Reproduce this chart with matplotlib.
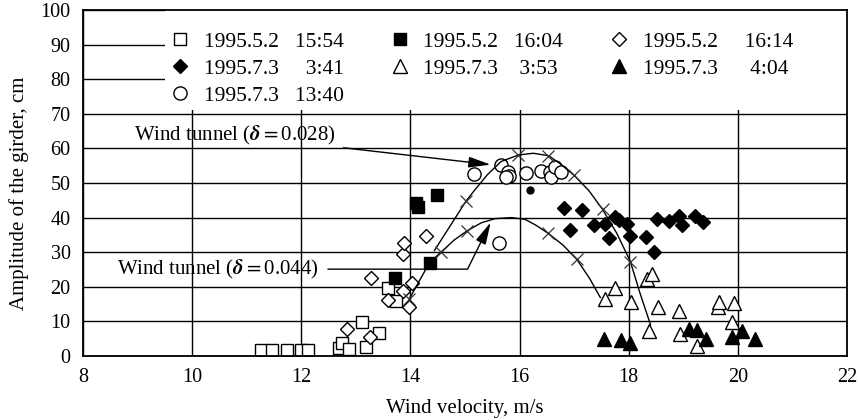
import matplotlib
matplotlib.use("Agg")
import matplotlib.pyplot as plt
from matplotlib.patches import Rectangle

plt.rcParams['font.family'] = ['Liberation Serif', 'DejaVu Serif']
plt.rcParams['mathtext.fontset'] = 'stix'

# ---------------- data ----------------
# 1995.5.2 15:54 (open squares)
sq_open_x = [11.27, 11.46, 11.74, 12.00, 12.12, 12.69, 12.75, 12.87, 13.11, 13.18, 13.42, 13.58, 13.73]
sq_open_y = [1.8, 1.8, 1.8, 1.8, 1.8, 2.4, 3.8, 2.0, 9.8, 2.6, 6.6, 19.7, 15.9]
# 1995.5.2 16:04 (filled squares)
sq_fill_x = [13.72, 14.11, 14.14, 14.48, 14.35]
sq_fill_y = [22.6, 44.2, 43.2, 46.4, 27.0]
# small isolated dot
dot_x = [16.19]
dot_y = [47.9]
# 1995.5.2 16:14 (open diamonds)
dia_open_x = [12.84, 13.25, 13.27, 13.58, 13.86, 13.87, 13.89, 13.98, 14.02, 14.28]
dia_open_y = [7.7, 5.5, 22.6, 16.2, 18.8, 29.4, 32.6, 14.3, 21.2, 34.6]
# 1995.7.3 3:41 (filled diamonds)
dia_fill_x = [16.82, 17.15, 16.92, 17.37, 17.56, 17.74, 17.63, 17.83, 17.96, 18.03,
              18.31, 18.46, 18.52, 18.74, 18.92, 18.98, 19.22, 19.36]
dia_fill_y = [42.7, 42.2, 36.5, 37.9, 38.1, 40.3, 34.0, 39.3, 38.1, 34.6,
              34.5, 30.2, 39.5, 39.0, 40.5, 37.9, 40.5, 38.6]
# 1995.7.3 3:53 (open triangles)
tri_open_x = [17.56, 17.74, 18.05, 18.33, 18.42, 18.38, 18.53, 18.92, 18.94, 19.25,
              19.63, 19.66, 19.93, 19.89]
tri_open_y = [16.5, 19.7, 15.7, 22.2, 23.8, 7.2, 14.3, 12.9, 6.4, 2.8,
              14.3, 15.7, 15.3, 9.7]
# 1995.7.3 4:04 (filled triangles)
tri_fill_x = [17.54, 17.86, 18.03, 19.10, 19.25, 19.41, 19.89, 20.08, 20.31]
tri_fill_y = [4.9, 4.5, 3.8, 7.7, 7.5, 4.9, 5.5, 7.2, 4.9]
# 1995.7.3 13:40 (open circles)
circ_x = [15.16, 15.66, 15.78, 15.80, 15.75, 16.12, 16.40, 16.55, 16.58, 16.65, 16.76, 15.63]
circ_y = [52.6, 55.1, 53.3, 52.1, 51.6, 52.9, 53.5, 53.1, 51.6, 54.5, 53.3, 32.7]

# wind tunnel curves
wt028_x = [14.44, 15.02, 15.16, 15.41, 15.66, 15.98, 16.25, 16.53, 16.75, 17.00, 17.27, 17.52, 17.78, 18.03, 18.20, 18.40]
wt028_y = [30.5, 44.8, 47.6, 52.4, 56.2, 58.1, 58.6, 57.9, 55.5, 52.2, 47.8, 42.4, 35.5, 27.3, 18.5, 9.0]
wt028_mx = [15.02, 15.98, 16.53, 17.00, 17.52, 18.03]
wt028_my = [44.8, 58.1, 57.9, 52.2, 42.4, 27.3]

wt044_x = [13.98, 14.35, 14.56, 14.80, 15.04, 15.30, 15.55, 15.85, 16.10, 16.30, 16.52, 16.80, 17.05, 17.28, 17.48]
wt044_y = [16.5, 27.0, 30.0, 33.5, 36.2, 38.5, 39.7, 40.0, 39.5, 37.8, 35.5, 32.0, 27.9, 22.5, 16.9]
wt044_mx = [13.98, 14.56, 15.04, 16.52, 17.05]
wt044_my = [16.5, 30.0, 36.2, 35.5, 27.9]

labels = ["1995.5.2   15:54", "1995.7.3     3:41", "1995.7.3   13:40",
          "1995.5.2   16:04", "1995.7.3    3:53",
          "1995.5.2     16:14", "1995.7.3      4:04"]
x_ticks = [8, 10, 12, 14, 16, 18, 20, 22]
y_ticks = [0, 10, 20, 30, 40, 50, 60, 70, 80, 90, 100]

# ---------------- figure ----------------
fig = plt.figure(figsize=(8.58, 4.20), dpi=100)
ax = fig.add_axes([83/858, 1-356/420, (847-83)/858, (356-10)/420])
ax.set_xlim(8, 22)
ax.set_ylim(0, 100)
ax.set_xticks(x_ticks)
ax.set_yticks(y_ticks)
ax.grid(True, color='black', linewidth=1.0, zorder=0)
ax.set_axisbelow(True)
ax.tick_params(length=0, labelsize=14.5, pad=9)
for s in ax.spines.values():
    s.set_linewidth(1.3)
    s.set_zorder(10)

# white box behind legend
ax.add_patch(Rectangle((9.5, 71.2), 22 - 9.5, 100 - 71.2, facecolor='white',
                       edgecolor='none', zorder=1.5))

mk = dict(linestyle='none', markeredgecolor='black', markeredgewidth=1.0, zorder=4)
h_sq_open, = ax.plot(sq_open_x, sq_open_y, marker='s', markersize=8, markerfacecolor='white', **mk)
h_sq_fill, = ax.plot(sq_fill_x, sq_fill_y, marker='s', markersize=8, markerfacecolor='black', **mk)
ax.plot(dot_x, dot_y, marker='o', markersize=5, markerfacecolor='black', **mk)
h_dia_open, = ax.plot(dia_open_x, dia_open_y, marker='D', markersize=7, markerfacecolor='white', **mk)
h_dia_fill, = ax.plot(dia_fill_x, dia_fill_y, marker='D', markersize=7, markerfacecolor='black', **mk)
h_tri_open, = ax.plot(tri_open_x, tri_open_y, marker='^', markersize=10.5, markerfacecolor='white', **mk)
h_tri_fill, = ax.plot(tri_fill_x, tri_fill_y, marker='^', markersize=10.5, markerfacecolor='black', **mk)
h_circ, = ax.plot(circ_x, circ_y, marker='o', markersize=9.5, markerfacecolor='white', **mk)

# wind tunnel curves
ax.plot(wt028_x, wt028_y, color='black', linewidth=1.0, zorder=5)
ax.plot(wt028_mx, wt028_my, linestyle='none', marker='x', markersize=8, color='#333333',
        markeredgewidth=0.9, zorder=5)
ax.plot(wt044_x, wt044_y, color='black', linewidth=1.0, zorder=5)
ax.plot(wt044_mx, wt044_my, linestyle='none', marker='x', markersize=8, color='#333333',
        markeredgewidth=0.9, zorder=5)

# annotations
ax.annotate(r'Wind tunnel ($\boldsymbol{\delta}$$=$0.028)', xy=(15.47, 55.3), xytext=(12.62, 63.8),
            fontsize=15, ha='right', va='center', zorder=6,
            arrowprops=dict(arrowstyle='-|>,head_length=0.9,head_width=0.22', color='black',
                            lw=1.0, shrinkA=4, shrinkB=0))
ax.annotate(r'Wind tunnel ($\boldsymbol{\delta}$$=$0.044)', xy=(15.47, 38.6), xytext=(12.31, 25.1),
            fontsize=15, ha='right', va='center', zorder=6,
            arrowprops=dict(arrowstyle='-|>,head_length=0.9,head_width=0.22', color='black',
                            lw=1.0, shrinkA=5, shrinkB=0,
                            connectionstyle='angle,angleA=0,angleB=63.7,rad=0'))

handles = [h_sq_open, h_dia_fill, h_circ, h_sq_fill, h_tri_open, h_dia_open, h_tri_fill]
leg = ax.legend(handles, labels, ncol=3, loc='upper left', bbox_to_anchor=(0.110, 0.937),
                frameon=False, fontsize=15.5, handlelength=1.2, handletextpad=0.5,
                columnspacing=2.0, labelspacing=0.32, borderpad=0, borderaxespad=0)
leg.set_zorder(7)

ax.set_xlabel('Wind velocity, m/s', fontsize=15, labelpad=8)
ax.set_ylabel('Amplitude of the girder, cm', fontsize=15)
ax.yaxis.set_label_coords(-0.071, 0.47)

fig.savefig('out.png', dpi=100)
